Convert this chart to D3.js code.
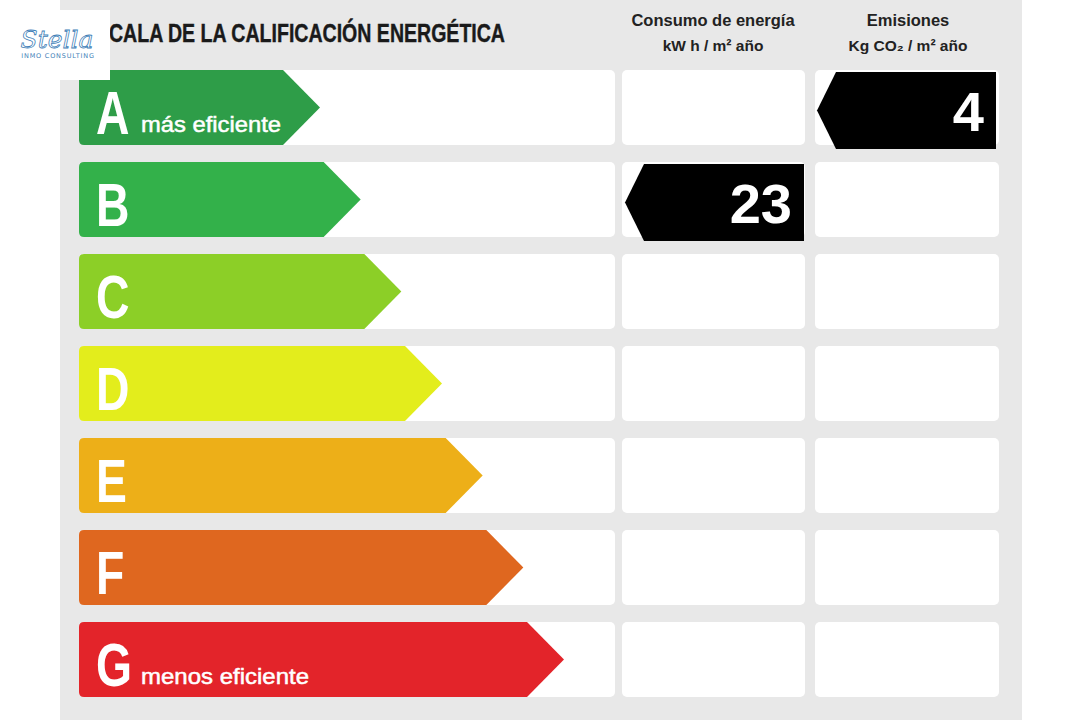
<!DOCTYPE html>
<html><head><meta charset="utf-8">
<script src="https://cdn.jsdelivr.net/npm/d3@7"></script>
<style>body{margin:0;background:#fff}svg{display:block}</style>
</head><body>
<script>
const categories = ["A","B","C","D","E","F","G"];
const colors = ["#2e9d48","#33b14a","#8ccf27","#e3ed1c","#edaf18","#df671f","#e3242a"];
const subLabels = {A:"más eficiente", G:"menos eficiente"};
const title = "CALA DE LA CALIFICACIÓN ENERGÉTICA";
const colHeaders = [["Consumo de energía","kW h / m² año"],["Emisiones","Kg CO₂ / m² año"]];
const consumoRating = "B", consumoValue = 23;
const emisionesRating = "A", emisionesValue = 4;

const W = 1082, H = 720;
const svg = d3.select("body").append("svg").attr("width", W).attr("height", H);

svg.append("rect").attr("x",60).attr("y",0).attr("width",962).attr("height",H).attr("fill","#e8e8e8");

const y = d3.scaleBand().domain(categories).range([70,697]).paddingInner(17/92).paddingOuter(0);
const tip = d3.scaleLinear().domain([0,6]).range([320,564]);
const bh = y.bandwidth();

// title (its first letters are hidden behind the logo in the original)
svg.append("text").attr("x",109).attr("y",42).text(title)
  .attr("font-family","'Liberation Sans',sans-serif").attr("font-weight","bold")
  .attr("font-size",25).attr("fill","#1a1a1a").attr("stroke","#1a1a1a").attr("stroke-width",0.4)
  .attr("textLength",396).attr("lengthAdjust","spacingAndGlyphs");

// column headers
const colCenters = [713, 908];
colHeaders.forEach((h,i)=>{
  svg.append("text").attr("x",colCenters[i]).attr("y",26).attr("text-anchor","middle").text(h[0])
    .attr("font-family","'Liberation Sans',sans-serif").attr("font-weight","bold").attr("font-size",16.5).attr("fill","#222");
  svg.append("text").attr("x",colCenters[i]).attr("y",51).attr("text-anchor","middle").text(h[1])
    .attr("font-family","'Liberation Sans',sans-serif").attr("font-weight","bold").attr("font-size",15.5).attr("fill","#222");
});

// cells
const cols = [[79,615],[622,805],[815,999]];
categories.forEach(c=>{
  cols.forEach(([x0,x1])=>{
    svg.append("rect").attr("x",x0).attr("y",y(c)).attr("width",x1-x0).attr("height",bh)
      .attr("rx",5).attr("fill","#ffffff");
  });
});

// arrows
const g = svg.append("g");
categories.forEach((c,i)=>{
  const t0 = tip(i), y0 = y(c), y1 = y0+bh, ym = y0+bh/2, x0 = 79, r = 5;
  const body = t0 - 37;
  const p = `M${x0+r},${y0} L${body},${y0} L${t0},${ym} L${body},${y1} L${x0+r},${y1} Q${x0},${y1} ${x0},${y1-r} L${x0},${y0+r} Q${x0},${y0} ${x0+r},${y0} Z`;
  g.append("path").attr("d",p).attr("fill",colors[i]);
  g.append("text").attr("transform",`translate(96,${y0+64}) scale(0.76,1)`).text(c)
    .attr("font-family","'Liberation Sans',sans-serif").attr("font-weight","bold")
    .attr("font-size",61).attr("fill","#fff");
  if (subLabels[c]) {
    g.append("text").attr("x",141).attr("y",y0+62).text(subLabels[c])
      .attr("font-family","'Liberation Sans',sans-serif").attr("font-size",22)
      .attr("fill","#fff").attr("stroke","#fff").attr("stroke-width",0.5)
      .attr("textLength", c==="A"?140:168).attr("lengthAdjust","spacingAndGlyphs");
  }
});

// value markers
function marker(xl, xr, c, val){
  const y0 = y(c)+2, y1 = y(c)+bh+4, ym = (y0+y1)/2;
  const p = `M${xl},${ym} L${xl+19},${y0} L${xr},${y0} L${xr},${y1} L${xl+19},${y1} Z`;
  svg.append("path").attr("d",p).attr("fill","#000");
  svg.append("text").attr("x",xr-12).attr("y",ym+20).attr("text-anchor","end").text(val)
    .attr("font-family","'Liberation Sans',sans-serif").attr("font-weight","bold").attr("font-size",56).attr("fill","#fff");
}
marker(625, 804, consumoRating, consumoValue);
marker(817, 996, emisionesRating, emisionesValue);

// logo
svg.append("rect").attr("x",0).attr("y",10).attr("width",110).attr("height",70).attr("fill","#fff");
svg.append("text").attr("x",57).attr("y",48).attr("text-anchor","middle").text("Stella")
  .attr("font-family","'DejaVu Serif',serif").attr("font-style","italic").attr("font-size",25)
  .attr("fill","none").attr("stroke","#3f7fb8").attr("stroke-width",0.8);
svg.append("text").attr("x",58).attr("y",58).attr("text-anchor","middle").text("INMO CONSULTING")
  .attr("font-family","'DejaVu Sans',sans-serif").attr("font-size",6.5).attr("letter-spacing",0.8).attr("fill","#3f7fb8");
</script>
</body></html>
